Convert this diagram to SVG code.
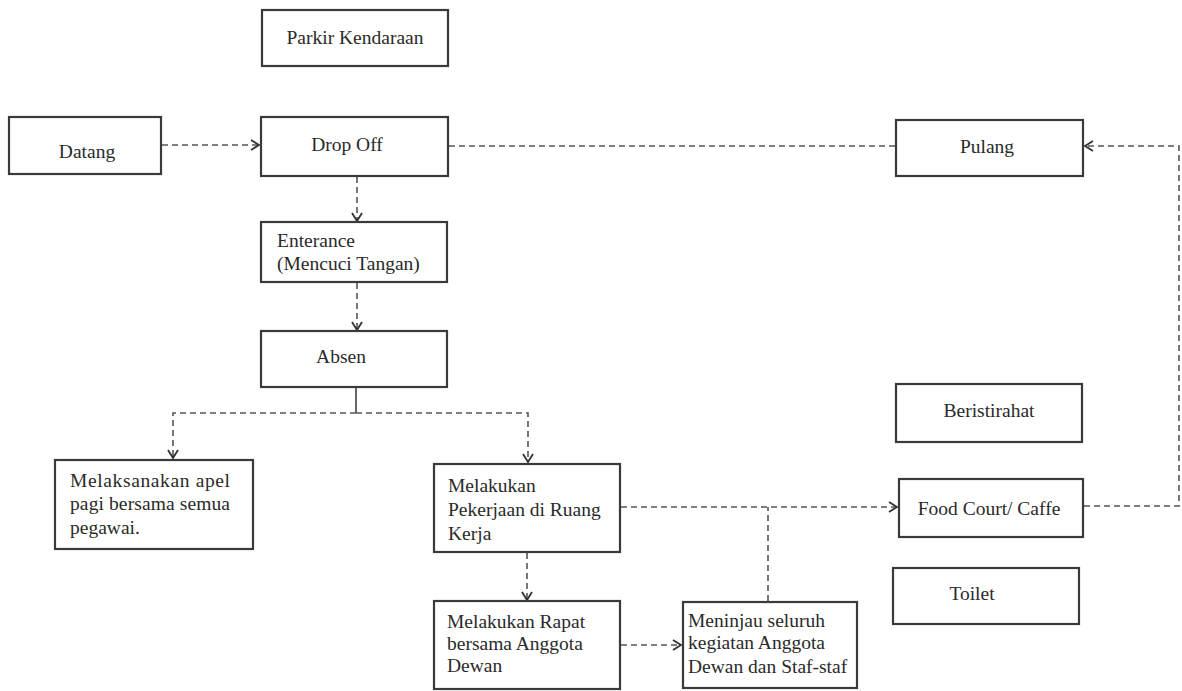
<svg xmlns="http://www.w3.org/2000/svg" width="1182" height="691" viewBox="0 0 1182 691">
<style>
.box{fill:#fff;stroke:#3a3a3a;stroke-width:2.2}
.t{font-size:19.5px;fill:#2a2a2a}
.c{text-anchor:middle}
.d{fill:none;stroke:#555;stroke-width:1.6;stroke-dasharray:6 4}
.s{fill:none;stroke:#555;stroke-width:1.8}
</style>
<defs>
<marker id="ah" markerWidth="12" markerHeight="12" refX="10" refY="6" orient="auto" markerUnits="userSpaceOnUse">
<path d="M2,1 L10,6 L2,11" fill="none" stroke="#333" stroke-width="1.8"/>
</marker>
</defs>
<rect width="1182" height="691" fill="#fff"/>
<g id="connectors">
<line class="d" x1="162" y1="145" x2="259" y2="145" marker-end="url(#ah)"/>
<line class="d" x1="449" y1="146" x2="896" y2="146"/>
<line class="d" x1="357" y1="177" x2="357" y2="221" marker-end="url(#ah)"/>
<line class="d" x1="357" y1="283" x2="357" y2="330" marker-end="url(#ah)"/>
<line class="s" x1="356" y1="388" x2="356" y2="413"/>
<path class="d" d="M356,413 H173 V458" marker-end="url(#ah)"/>
<path class="d" d="M356,413 H528 V462" marker-end="url(#ah)"/>
<line class="d" x1="621" y1="507" x2="897" y2="507" marker-end="url(#ah)"/>
<line class="d" x1="768" y1="601" x2="768" y2="507"/>
<line class="d" x1="527" y1="553" x2="527" y2="600" marker-end="url(#ah)"/>
<line class="d" x1="621" y1="645" x2="681" y2="645" marker-end="url(#ah)"/>
<path class="d" d="M1084,506 H1179 V146 H1085" marker-end="url(#ah)"/>
</g>
<g font-family="'Liberation Serif', 'Times New Roman', 'DejaVu Serif', serif">
<g id="parkir"><rect class="box" x="262" y="10" width="186" height="56"/><text class="t c" x="355" y="44">Parkir Kendaraan</text></g>
<g id="datang"><rect class="box" x="9" y="117" width="152" height="57"/><text class="t c" x="87" y="158">Datang</text></g>
<g id="dropoff"><rect class="box" x="261" y="117" width="187" height="59"/><text class="t c" x="347" y="151">Drop Off</text></g>
<g id="pulang"><rect class="box" x="896" y="120" width="187" height="56"/><text class="t c" x="987" y="153">Pulang</text></g>
<g id="enterance"><rect class="box" x="261" y="222" width="186" height="60"/><text class="t" x="277" y="247">Enterance</text><text class="t" x="277" y="270">(Mencuci Tangan)</text></g>
<g id="absen"><rect class="box" x="261" y="331" width="186" height="56"/><text class="t c" x="341" y="363">Absen</text></g>
<g id="apel"><rect class="box" x="55" y="460" width="198" height="89"/><text class="t" x="70" y="487" textLength="160" lengthAdjust="spacing">Melaksanakan apel</text><text class="t" x="70" y="510" textLength="160" lengthAdjust="spacing">pagi bersama semua</text><text class="t" x="70" y="534">pegawai.</text></g>
<g id="pekerjaan"><rect class="box" x="434" y="464" width="186" height="88"/><text class="t" x="448" y="492">Melakukan</text><text class="t" x="448" y="516">Pekerjaan di Ruang</text><text class="t" x="448" y="540">Kerja</text></g>
<g id="istirahat"><rect class="box" x="896" y="384" width="186" height="58"/><text class="t c" x="989" y="417">Beristirahat</text></g>
<g id="foodcourt"><rect class="box" x="899" y="479" width="184" height="58"/><text class="t c" x="989" y="515">Food Court/ Caffe</text></g>
<g id="toilet"><rect class="box" x="893" y="568" width="186" height="56"/><text class="t c" x="972" y="600">Toilet</text></g>
<g id="rapat"><rect class="box" x="434" y="601" width="186" height="88"/><text class="t" x="447" y="628">Melakukan Rapat</text><text class="t" x="447" y="650">bersama Anggota</text><text class="t" x="447" y="672">Dewan</text></g>
<g id="meninjau"><rect class="box" x="683" y="602" width="174" height="86"/><text class="t" x="688" y="627">Meninjau seluruh</text><text class="t" x="688" y="649">kegiatan Anggota</text><text class="t" x="688" y="673">Dewan dan Staf-staf</text></g>
</g>
</svg>
